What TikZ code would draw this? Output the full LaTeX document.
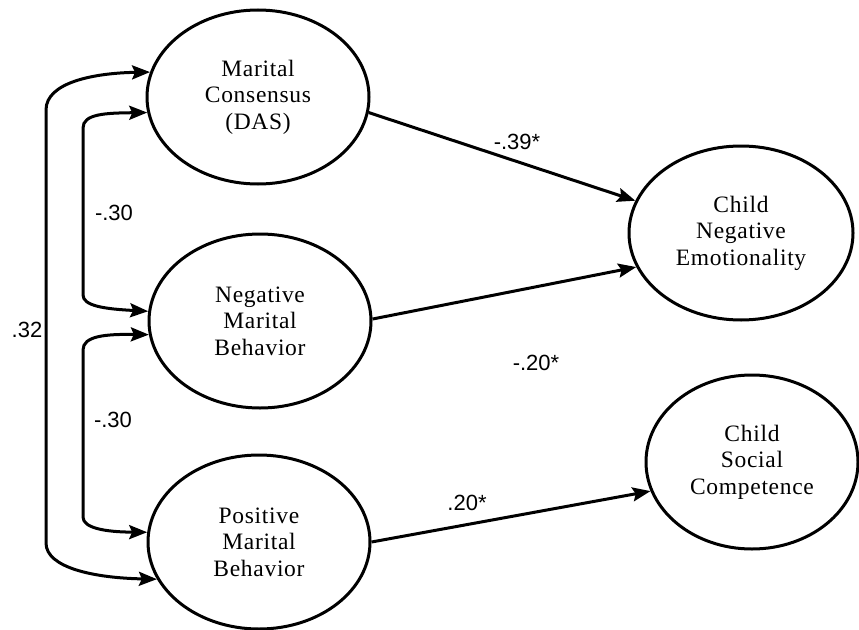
\documentclass[tikz,border=0pt]{standalone}
\usepackage{fontspec}
\setmainfont{Liberation Serif}
\newfontfamily\lblfont{Liberation Sans}
\newfontfamily\boxfont[LetterSpace=3]{Liberation Serif}
\usetikzlibrary{shapes.geometric,arrows.meta}
\begin{document}
\begin{tikzpicture}[x=1pt,y=-1pt,
  latent/.style={draw, ellipse, line width=3pt, inner sep=0pt,
    minimum width=222pt, minimum height=174pt, align=center,
    font=\boxfont\fontsize{23.5}{26.5}\selectfont},
  path/.style={line width=3pt, -{Stealth[length=18pt,width=14pt,inset=3pt]}},
  corr/.style={line width=3pt, {Stealth[length=18pt,width=14pt,inset=3pt]}-{Stealth[length=18pt,width=14pt,inset=3pt]}},
  coef/.style={font=\lblfont\fontsize{22}{26}\selectfont, inner sep=0pt}]
\useasboundingbox (0,0) rectangle (859,629);
\node[latent] (mc)  at (258,97)  {Marital\\Consensus\\(DAS)};
\node[latent] (nmb) at (260,321) {Negative\\Marital\\Behavior};
\node[latent] (pmb) at (259,542) {Positive\\Marital\\Behavior};
\node[latent, minimum width=224pt] (cne) at (741,233) {Child\\Negative\\Emotionality};
\node[latent, minimum width=212pt] (csc) at (752,462) {Child\\Social\\Competence};
% paths
\draw[path] (mc.352) -- (cne.163.5);
\draw[path] (nmb.1.5) -- (cne.198.8);
\draw[path] (pmb.0) -- (csc.196.6);
% correlations
\draw[corr] (mc.167) .. controls (95,73) and (46,82) .. (46,110)
  -- (46,543) .. controls (46,568) and (95,578) .. (pmb.200);
\draw[corr] (mc.188) .. controls (105,113) and (83,114) .. (83,128)
  -- (83,295) .. controls (83,306) and (105,309) .. (nmb.175);
\draw[corr] (nmb.187) .. controls (105,334) and (83,336) .. (83,350)
  -- (83,517) .. controls (83,528) and (105,532) .. (pmb.175);
% coefficients
\node[coef] (c1) at (517,142) {-.39*};
\node[coef] (c2) at (536,363) {-.20*};
\node[coef] (c3) at (467,503) {.20*};
\node[coef] (c4) at (114,213) {-.30};
\node[coef] (c5) at (113,420) {-.30};
\node[coef] (c6) at (27,330) {.32};
\end{tikzpicture}
\end{document}
